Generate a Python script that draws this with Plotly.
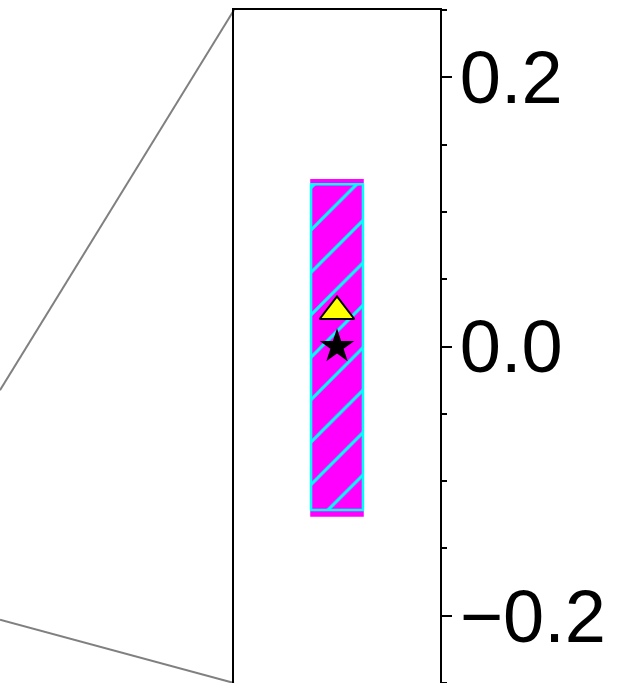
import plotly.graph_objects as go

# inset panel: one hatched box, its mean (triangle) and median (star)
positions = [0]
box_outer_low = [-0.1265]
box_outer_high = [0.1245]
box_inner_low = [-0.1215]
box_inner_high = [0.1205]
mean_values = [0.026]
median_values = [0.0]

y_range = [-0.25, 0.25]
y_major_ticks = [-0.2, 0.0, 0.2]

# inset connector lines, in paper coordinates of the inset axes
connector_lines = [
    ((0.0, 1.0), (-1.136, 0.435)),
    ((0.0, 0.0), (-1.136, 0.094)),
]

fig = go.Figure()

fig.add_trace(
    go.Bar(
        x=positions,
        base=box_outer_low,
        y=[h - l for h, l in zip(box_outer_high, box_outer_low)],
        width=0.26,
        marker={"color": "#ff00ff", "line": {"width": 0}},
        showlegend=False,
    )
)
fig.add_trace(
    go.Bar(
        x=positions,
        base=box_inner_low,
        y=[h - l for h, l in zip(box_inner_high, box_inner_low)],
        width=0.252,
        marker={
            "color": "#ff00ff",
            "line": {"color": "#00ffff", "width": 2.5},
            "pattern": {
                "shape": "/", "fgcolor": "#00ffff", "fgopacity": 1, "bgcolor": "#ff00ff",
                "size": 30, "solidity": 0.1,
            },
        },
        showlegend=False,
    )
)
fig.add_trace(
    go.Scatter(
        x=positions,
        y=mean_values,
        mode="markers",
        marker={"symbol": "triangle-up", "size": 30, "color": "#ffff00", "line": {"color": "black", "width": 2}},
        showlegend=False,
    )
)
fig.add_trace(
    go.Scatter(
        x=positions,
        y=median_values,
        mode="markers",
        marker={"symbol": "star", "size": 26, "color": "black", "line": {"width": 0}},
        showlegend=False,
    )
)

for (x0, y0), (x1, y1) in connector_lines:
    fig.add_shape(
        type="line", xref="paper", yref="paper", x0=x0, y0=y0, x1=x1, y1=y1,
        line={"color": "#808080", "width": 2}, layer="below",
    )

fig.update_layout(
    width=640,
    height=683,
    margin={"l": 234, "r": 200, "t": 10, "b": 0},
    paper_bgcolor="white",
    plot_bgcolor="white",
    barmode="overlay",
    font={"family": "Liberation Sans, Arial, Helvetica, sans-serif", "size": 74, "color": "black"},
    xaxis={
        "side": "top",
        "range": [-0.5, 0.5],
        "showticklabels": False,
        "ticks": "",
        "showgrid": False,
        "zeroline": False,
        "showline": True,
        "mirror": False,
        "linecolor": "black",
        "linewidth": 1.6,
    },
    yaxis={
        "side": "right",
        "range": y_range,
        "tickvals": y_major_ticks,
        "tickformat": ".1f",
        "ticks": "outside",
        "ticklen": 10,
        "tickwidth": 2,
        "tickcolor": "black",
        "ticklabelstandoff": -7,
        "minor": {"dtick": 0.05, "tick0": 0, "ticks": "outside", "ticklen": 5, "tickwidth": 1.5, "tickcolor": "black"},
        "showgrid": False,
        "zeroline": False,
        "showline": True,
        "mirror": True,
        "linecolor": "black",
        "linewidth": 2,
    },
)

# drop the browser's default body margin so the figure fills the window
fig.write_html(
    "out.html",
    config={"displayModeBar": False},
    post_script="document.body.style.margin = '0';",
)
